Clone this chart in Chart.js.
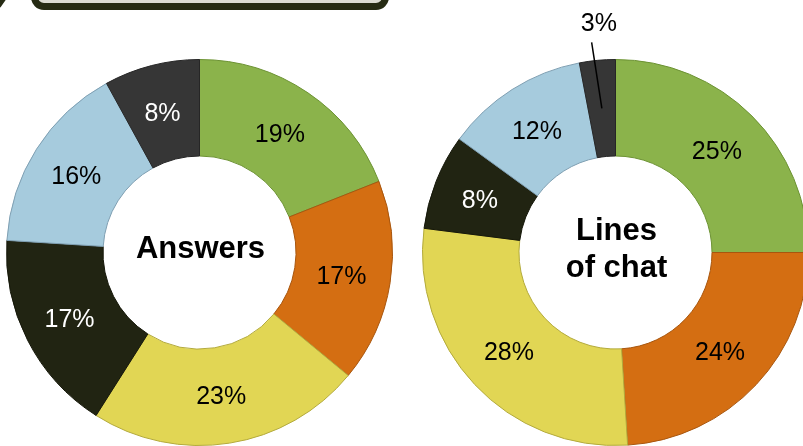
<!DOCTYPE html>
<html>
<head>
<meta charset="utf-8">
<script src="https://cdn.jsdelivr.net/npm/chart.js@4"></script>
<style>
  html, body { margin: 0; padding: 0; width: 803px; height: 446px; overflow: hidden; background: #fff; }
  .box { position: absolute; left: 31px; top: -30px; width: 344px; height: 26px;
         background: #dcdcd4; border: 7px solid #262b14; border-radius: 13px; }
  .corner { position: absolute; left: -10px; top: -12px; width: 16px; height: 18px;
            background: #262b14; transform: rotate(35deg); border-radius: 3px; }
  .wrap { position: absolute; top: 0; height: 460px; }
</style>
</head>
<body>
<div class="corner"></div>
<div class="box"></div>
<div class="wrap" style="left:0;width:400px"><canvas id="answersChart"></canvas></div>
<div class="wrap" style="left:400px;width:430px"><canvas id="chatChart"></canvas></div>
<script>
document.addEventListener("DOMContentLoaded", function () {
  const categories = ["Group A", "Group B", "Group C", "Group D", "Group E", "Group F"];
  const answersValues = [19, 17, 23, 17, 16, 8];
  const chatValues = [25, 24, 28, 8, 12, 3];

  const fillColors = ["#8bb34b", "#d46e12", "#e1d654", "#212412", "#a6cbdd", "#363636"];
  const edgeColors = ["#6c9233", "#a8560e", "#b3aa3c", "#151709", "#7f9fb2", "#262626"];
  const textColors = ["#000", "#000", "#000", "#fff", "#000", "#fff"];

  const fontFamily = "'Liberation Sans', Arial, sans-serif";

  // draws percent labels on the arcs and the title in the hole
  const labelPlugin = {
    id: "arcLabels",
    afterDatasetsDraw(chart, args, opts) {
      const ctx = chart.ctx;
      const meta = chart.getDatasetMeta(0);
      const values = chart.data.datasets[0].data;
      ctx.save();
      ctx.textAlign = "center";
      ctx.textBaseline = "middle";
      ctx.font = "25px " + fontFamily;
      meta.data.forEach(function (arc, i) {
        const text = values[i] + "%";
        if (i === opts.outsideIndex) {
          const mid = (arc.startAngle + arc.endAngle) / 2;
          const c = arc.tooltipPosition();
          const r1 = arc.outerRadius + 18;
          const r2 = arc.outerRadius + 37;
          ctx.strokeStyle = "#000";
          ctx.lineWidth = 1.5;
          ctx.beginPath();
          ctx.moveTo(c.x, c.y);
          ctx.lineTo(arc.x + Math.cos(mid) * r1 - 4, arc.y + Math.sin(mid) * r1);
          ctx.stroke();
          ctx.fillStyle = "#000";
          ctx.fillText(text, arc.x + Math.cos(mid) * r2 + 5, arc.y + Math.sin(mid) * r2 + 1);
        } else {
          const p = arc.tooltipPosition();
          ctx.fillStyle = textColors[i];
          ctx.fillText(text, p.x - 1, p.y + 2);
        }
      });
      const first = meta.data[0];
      ctx.fillStyle = "#000";
      ctx.font = "bold 31px " + fontFamily;
      const lines = opts.title;
      const lh = 37;
      lines.forEach(function (line, k) {
        const y = first.y - ((lines.length - 1) * lh) / 2 + k * lh - 3;
        ctx.fillText(line, first.x + 1, y);
      });
      ctx.restore();
    },
  };

  function makeChart(id, values, title, padding, outsideIndex) {
    const ctx = document.getElementById(id).getContext("2d");
    return new Chart(ctx, {
      type: "doughnut",
      data: {
        labels: categories,
        datasets: [
          {
            data: values,
            backgroundColor: fillColors,
            borderColor: edgeColors,
            borderWidth: 1,
            hoverOffset: 0,
          },
        ],
      },
      options: {
        responsive: true,
        maintainAspectRatio: false,
        animation: false,
        cutout: "50%",
        layout: { padding: padding },
        plugins: {
          legend: { display: false },
          tooltip: { enabled: false },
          arcLabels: { title: title, outsideIndex: outsideIndex },
        },
      },
      plugins: [labelPlugin],
    });
  }

  makeChart("answersChart", answersValues, ["Answers"],
    { top: 59, left: 6, right: 7, bottom: 14 }, -1);
  makeChart("chatChart", chatValues, ["Lines", "of chat"],
    { top: 59, left: 22, right: 21, bottom: 14 }, 5);
});
</script>
</body>
</html>
